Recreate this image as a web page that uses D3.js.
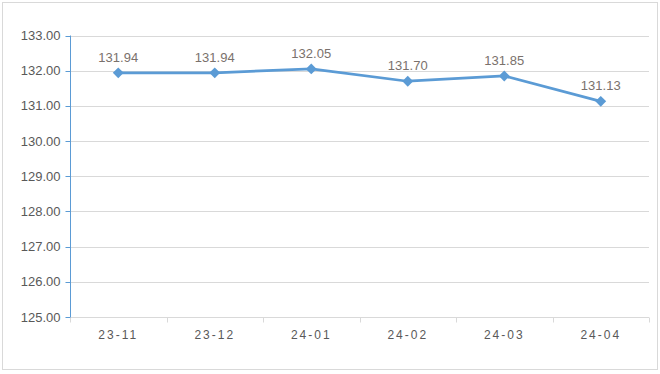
<!DOCTYPE html>
<html>
<head>
<meta charset="utf-8">
<script src="https://cdn.jsdelivr.net/npm/d3@7"></script>
<style>
  body { margin: 0; background: #fff; }
  svg { display: block; font-family: "Liberation Sans", "DejaVu Sans", sans-serif; }
</style>
</head>
<body>
<div id="chart"></div>
<script>
// 데이터
const categories = ['23-11', '23-12', '24-01', '24-02', '24-03', '24-04'];
const values = [131.94, 131.94, 132.05, 131.70, 131.85, 131.13];
const yTicks = [125, 126, 127, 128, 129, 130, 131, 132, 133];

const width = 660, height = 374;
const margin = { top: 35.5, right: 11, bottom: 57, left: 70 };

const svg = d3.select('#chart').append('svg')
    .attr('width', width)
    .attr('height', height);

// 바깥 테두리
svg.append('rect')
    .attr('x', 2.5).attr('y', 2.5)
    .attr('width', 655).attr('height', 367)
    .attr('fill', '#fff')
    .attr('stroke', '#d9d9d9');

const x = d3.scaleBand()
    .domain(categories)
    .range([margin.left, width - margin.right]);

const y = d3.scaleLinear()
    .domain([125, 133])
    .range([height - margin.bottom, margin.top]);

// 가로 격자선
svg.append('g')
    .selectAll('line')
    .data(yTicks.slice(1))
    .enter().append('line')
    .attr('x1', margin.left).attr('x2', width - margin.right)
    .attr('y1', d => Math.round(y(d)) + 0.5)
    .attr('y2', d => Math.round(y(d)) + 0.5)
    .attr('stroke', '#d9d9d9');

// x축
const xAxis = svg.append('g')
    .attr('transform', `translate(0,${Math.round(y(125)) + 0.5})`);
xAxis.append('line')
    .attr('x1', margin.left).attr('x2', width - margin.right)
    .attr('stroke', '#d9d9d9');
const bounds = categories.map(c => x(c)).concat([x.range()[1]]);
xAxis.selectAll('line.tick')
    .data(bounds)
    .enter().append('line')
    .attr('class', 'tick')
    .attr('x1', d => Math.round(d) + 0.5).attr('x2', d => Math.round(d) + 0.5)
    .attr('y1', 0).attr('y2', 5)
    .attr('stroke', '#d9d9d9');
xAxis.selectAll('text')
    .data(categories)
    .enter().append('text')
    .attr('x', d => x(d) + x.bandwidth() / 2)
    .attr('y', 21)
    .attr('text-anchor', 'middle')
    .attr('fill', '#595959')
    .attr('font-size', '12px')
    .style('letter-spacing', '2px')
    .text(d => d);

// y축 (파란 선)
const yAxis = svg.append('g')
    .attr('transform', `translate(${margin.left + 0.5},0)`);
yAxis.append('line')
    .attr('y1', y(133)).attr('y2', y(125))
    .attr('stroke', '#5b9bd5');
yAxis.selectAll('line.tick')
    .data(yTicks)
    .enter().append('line')
    .attr('class', 'tick')
    .attr('x1', -5).attr('x2', 0)
    .attr('y1', d => Math.round(y(d)) + 0.5)
    .attr('y2', d => Math.round(y(d)) + 0.5)
    .attr('stroke', '#5b9bd5');
yAxis.selectAll('text')
    .data(yTicks)
    .enter().append('text')
    .attr('x', -10)
    .attr('y', d => y(d))
    .attr('dy', '0.35em')
    .attr('text-anchor', 'end')
    .attr('fill', '#595959')
    .attr('font-size', '13px')
    .text(d => d.toFixed(2));

// 선
const line = d3.line()
    .x((d, i) => x(categories[i]) + x.bandwidth() / 2)
    .y(d => y(d));

svg.append('path')
    .datum(values)
    .attr('d', line)
    .attr('fill', 'none')
    .attr('stroke', '#5b9bd5')
    .attr('stroke-width', 2.75)
    .attr('stroke-linejoin', 'round');

// 마름모 마커
svg.append('g')
    .selectAll('path')
    .data(values)
    .enter().append('path')
    .attr('transform', (d, i) => `translate(${x(categories[i]) + x.bandwidth() / 2},${y(d)})`)
    .attr('d', d3.symbol().type(d3.symbolDiamond2).size(75))
    .attr('fill', '#5b9bd5');

// 데이터 라벨
svg.append('g')
    .selectAll('text')
    .data(values)
    .enter().append('text')
    .attr('x', (d, i) => x(categories[i]) + x.bandwidth() / 2)
    .attr('y', d => y(d) - 11)
    .attr('text-anchor', 'middle')
    .attr('fill', '#7a716c')
    .attr('font-size', '13px')
    .text(d => d.toFixed(2));
</script>
</body>
</html>
